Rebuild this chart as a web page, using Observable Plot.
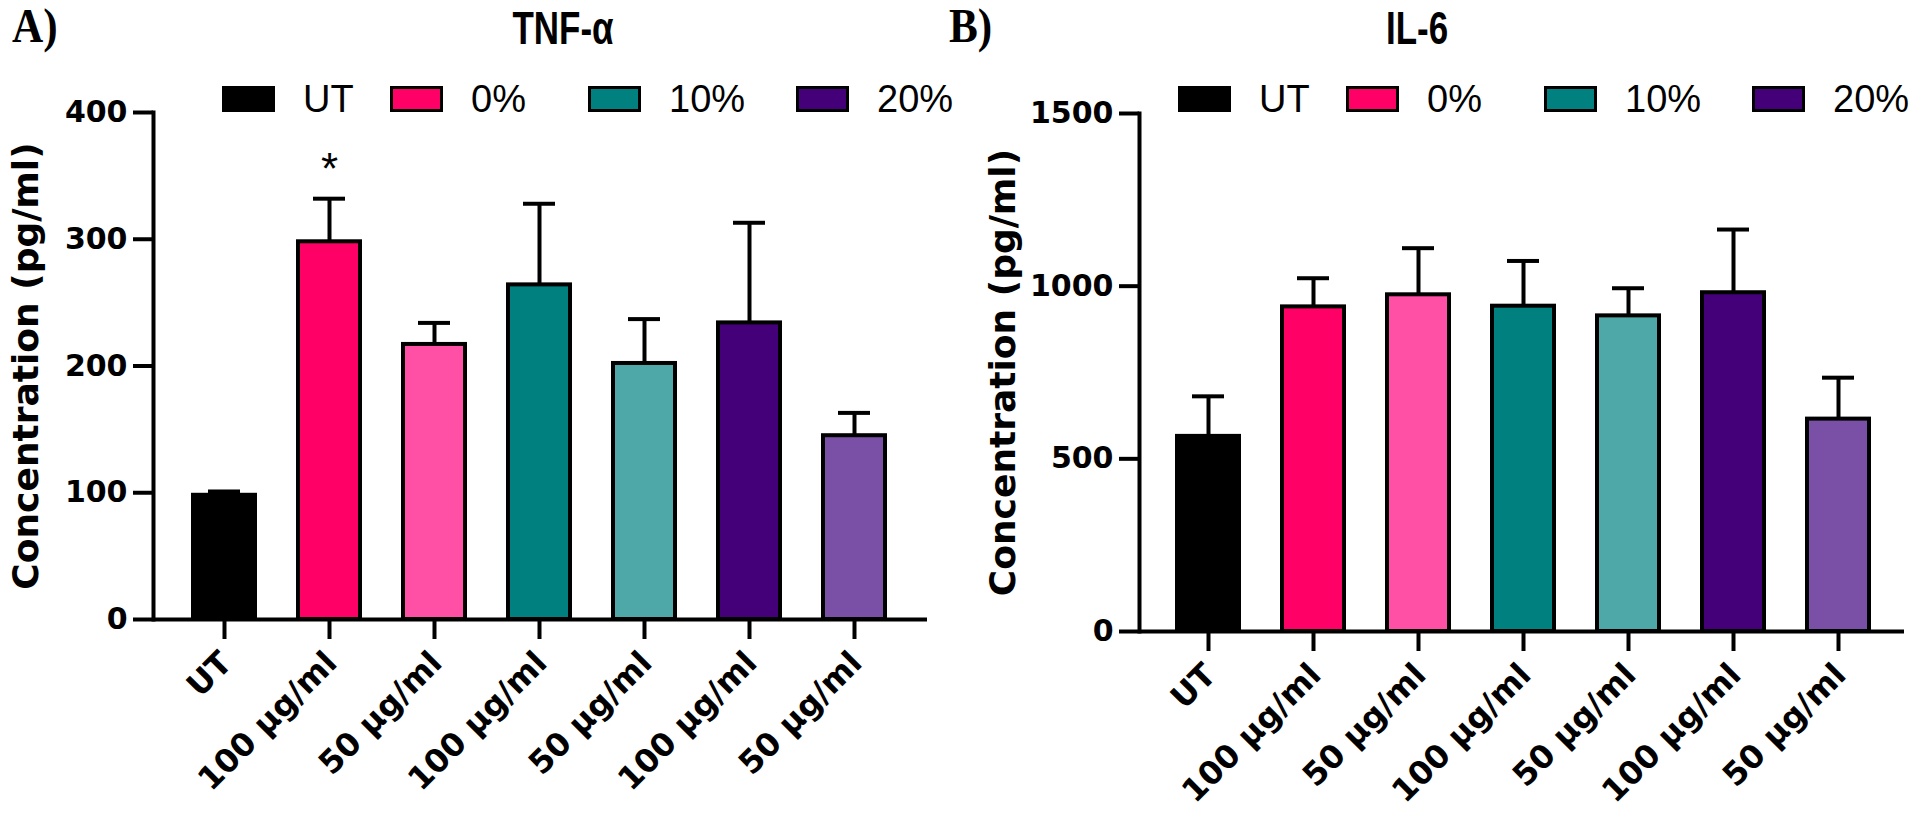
<!DOCTYPE html>
<html><head><meta charset="utf-8">
<script src="https://cdn.jsdelivr.net/npm/d3@7"></script>
<script src="https://cdn.jsdelivr.net/npm/@observablehq/plot@0.6"></script>
<style>
html,body{margin:0;padding:0;background:#fff}
#wrap{position:relative;width:1920px;height:817px;overflow:hidden;background:#fff}
.panel{position:absolute;top:0;width:960px;height:817px}
.tag{position:absolute;font-family:"Liberation Serif","Times New Roman",serif;font-weight:bold;font-size:48px;line-height:1.1;color:#000;transform:scaleX(0.9);transform-origin:left top;z-index:2}
.title{position:absolute;font-family:"Liberation Sans",Arial,sans-serif;font-weight:bold;font-size:46px;line-height:1.1;transform:translateX(-50%) scaleX(0.76);transform-origin:center top;white-space:nowrap;color:#000}
.legend{position:absolute;height:26px;width:720px;font-family:"Liberation Sans",Arial,sans-serif;font-size:38px;line-height:1;color:#000;white-space:nowrap}
.sw{position:absolute;top:0;width:47px;height:20px;border:3px solid #000}
.lt{position:absolute;top:50%;transform:translateY(-50%)}
</style>
</head><body>
<div id="wrap">
  <div class="panel" id="pA" style="left:0"></div>
  <div class="panel" id="pB" style="left:960px"></div>
  <div class="tag" style="left:12px;top:0px">A)</div>
  <div class="tag" style="left:949px;top:0px">B)</div>
  <div class="title" style="left:563px;top:3px">TNF-α</div>
  <div class="title" style="left:1417px;top:3px">IL-6</div>
  <div class="legend" id="legA" style="left:222px;top:86px"></div>
  <div class="legend" id="legB" style="left:1178px;top:86px"></div>
</div>
<script>
// ---- data ----
const categories = ["UT","100 μg/ml","50 μg/ml","100 μg/ml","50 μg/ml","100 μg/ml","50 μg/ml"];
const groups = ["UT","0%","0%","10%","10%","20%","20%"];
const barColors = ["#000000","#FF0066","#FF50A5","#018080","#4FA8A8","#430079","#7A50A6"];
const tnfMean = [98, 298, 217, 264, 202, 234, 145];
const tnfSEM  = [3, 34, 17, 64, 35, 79, 18];
const tnfSig  = ["", "*", "", "", "", "", ""];
const il6Mean = [565, 940, 975, 942, 914, 981, 615];
const il6SEM  = [116, 83, 135, 131, 80, 183, 120];
const il6Sig  = ["", "", "", "", "", "", ""];
const tnfTicks = [0, 100, 200, 300, 400];
const il6Ticks = [0, 500, 1000, 1500];
const legendLabels = ["UT", "0%", "10%", "20%"];
const legendColors = ["#000000", "#FF0066", "#018080", "#430079"];
const yLabel = "Concentration (pg/ml)";

// legend layout (pixel offsets of each entry inside the legend row)
const legendSlot = [0, 168, 366, 574];
function legend(el){
  legendLabels.forEach((l,k)=>{
    const s=document.createElement("div"); s.className="sw"; s.style.background=legendColors[k]; s.style.left=legendSlot[k]+"px"; el.appendChild(s);
    const t=document.createElement("div"); t.className="lt"; t.textContent=l; t.style.left=(legendSlot[k]+81)+"px"; el.appendChild(t);
  });
}
legend(document.getElementById("legA"));
legend(document.getElementById("legB"));

function panel(o){
  const data = categories.map((c,i)=>({i, label:c, group:groups[i], color:barColors[i], mean:o.mean[i], hi:o.mean[i]+o.sem[i], sig:o.sig[i]}));
  return Plot.plot({
    width:960, height:817,
    marginLeft:o.ml, marginRight:o.mr, marginTop:o.mt, marginBottom:o.mb,
    style:{fontFamily:"'DejaVu Sans', sans-serif", fontWeight:"bold", background:"transparent", overflow:"visible", color:"#000"},
    x:{domain:d3.range(categories.length), range:o.xRange, paddingInner:0.41, paddingOuter:0.205, label:null},
    y:{domain:[0,o.ticks[o.ticks.length-1]], label:null},
    color:{type:"identity"},
    marks:[
      Plot.ruleX(data,{x:"i", y1:"mean", y2:"hi", stroke:"#000", strokeWidth:4}),
      Plot.tickY(data,{x:"i", y:"hi", stroke:"#000", strokeWidth:4, insetLeft:15, insetRight:15}),
      Plot.barY(data,{x:"i", y:"mean", fill:"color", stroke:"#000", strokeWidth:4}),
      Plot.text(data,{x:"i", y:"hi", text:"sig", lineAnchor:"bottom", dy:-15, fontSize:44, fontWeight:"normal", fontFamily:"'Liberation Sans', Arial, sans-serif"}),
      Plot.axisY({ticks:o.ticks, tickFormat:d=>String(d), tickSize:20, tickPadding:6, strokeWidth:4, fontSize:30, label:null}),
      // x tick marks
      Plot.axisX({tickFormat:()=>"", tickSize:20, strokeWidth:4, label:null}),
      // x tick labels
      Plot.axisX({tickFormat:i=>categories[i], tickSize:20, tickPadding:6, tickRotate:-45, stroke:"none", fontSize:32, dx:2, dy:12, label:null}),
      Plot.frame({anchor:"left", strokeWidth:4, strokeLinecap:"square"}),
      Plot.ruleY([0],{strokeWidth:4}),
      Plot.text([yLabel],{frameAnchor:"left", textAnchor:"middle", rotate:-90, dx:o.labelDx, fontSize:36, fontWeight:"bold"})
    ]
  });
}

document.getElementById("pA").appendChild(panel({
  mean:tnfMean, sem:tnfSEM, sig:tnfSig, ticks:tnfTicks,
  ml:153, mr:33, mt:112, mb:198, xRange:[170.3, 907.7], labelDx:-127
}));
document.getElementById("pB").appendChild(panel({
  mean:il6Mean, sem:il6SEM, sig:il6Sig, ticks:il6Ticks,
  ml:179, mr:16, mt:113, mb:186, xRange:[193.3, 931.7], labelDx:-136
}));
</script>
</body></html>
